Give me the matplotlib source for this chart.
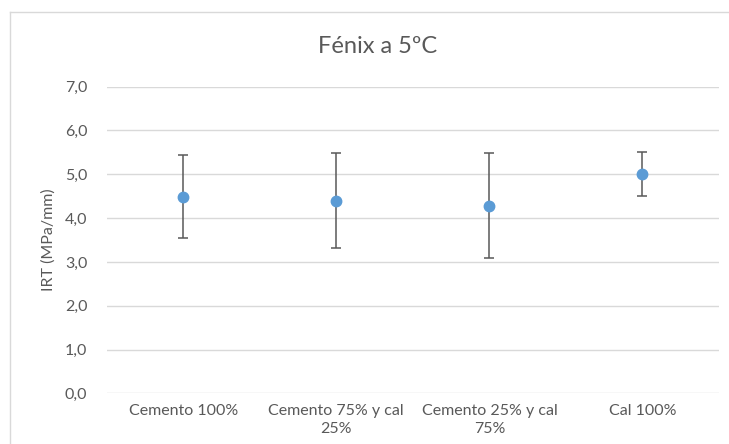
import matplotlib

matplotlib.use("Agg")
import matplotlib.pyplot as plt
from matplotlib.lines import Line2D

# values
categories = ["Cemento 100%", "Cemento 75% y cal\n25%", "Cemento 25% y cal\n75%", "Cal 100%"]
irt_mean = [4.49, 4.40, 4.28, 5.01]
irt_err = [0.94, 1.08, 1.20, 0.51]
y_ticks = [0, 1, 2, 3, 4, 5, 6, 7]
y_ticklabels = [f"{v:.1f}".replace(".", ",") for v in y_ticks]

plt.rcParams["font.family"] = ["Lato", "DejaVu Sans"]
text_color = "#595959"
grid_color = "#d9d9d9"

fig = plt.figure(figsize=(7.29, 4.44), dpi=100)
ax = fig.add_axes([106.7 / 729, 1 - 393.3 / 444, (719 - 106.7) / 729, (393.3 - 86.7) / 444])

x = list(range(len(categories)))
ax.errorbar(
    x, irt_mean, yerr=irt_err, fmt="o", color="#5b9bd5", markersize=7.5,
    ecolor="#595959", elinewidth=1.1, capsize=3.5, capthick=1.1, zorder=3,
)

ax.set_xlim(-0.5, len(categories) - 0.5)
ax.set_ylim(0, 7)
ax.set_yticks(y_ticks)
ax.set_yticklabels(y_ticklabels)
ax.set_xticks(x)
ax.set_xticklabels(categories, linespacing=1.35)
ax.tick_params(axis="both", length=0, labelsize=11.5, colors=text_color)
ax.tick_params(axis="y", pad=14)
ax.tick_params(axis="x", pad=8)
ax.grid(True, axis="y", color=grid_color, linewidth=1.0)
ax.set_axisbelow(True)
for s in ax.spines.values():
    s.set_visible(False)

ax.set_ylabel("IRT (MPa/mm)", fontsize=11.5, color=text_color)
ax.yaxis.set_label_coords((56 - 106.7) / 612.3, 0.5)

fig.text(378 / 729, 1 - 46 / 444, "Fénix a 5ºC", ha="center", va="center",
         fontsize=17, color=text_color)

# chart-area border (only top and left edges are visible in the crop)
fig.add_artist(Line2D([10 / 729, 1], [1 - 12 / 444] * 2, transform=fig.transFigure,
                      color=grid_color, linewidth=1.0))
fig.add_artist(Line2D([10 / 729] * 2, [0, 1 - 12 / 444], transform=fig.transFigure,
                      color=grid_color, linewidth=1.0))

fig.savefig("out.png", dpi=100, facecolor="white")
